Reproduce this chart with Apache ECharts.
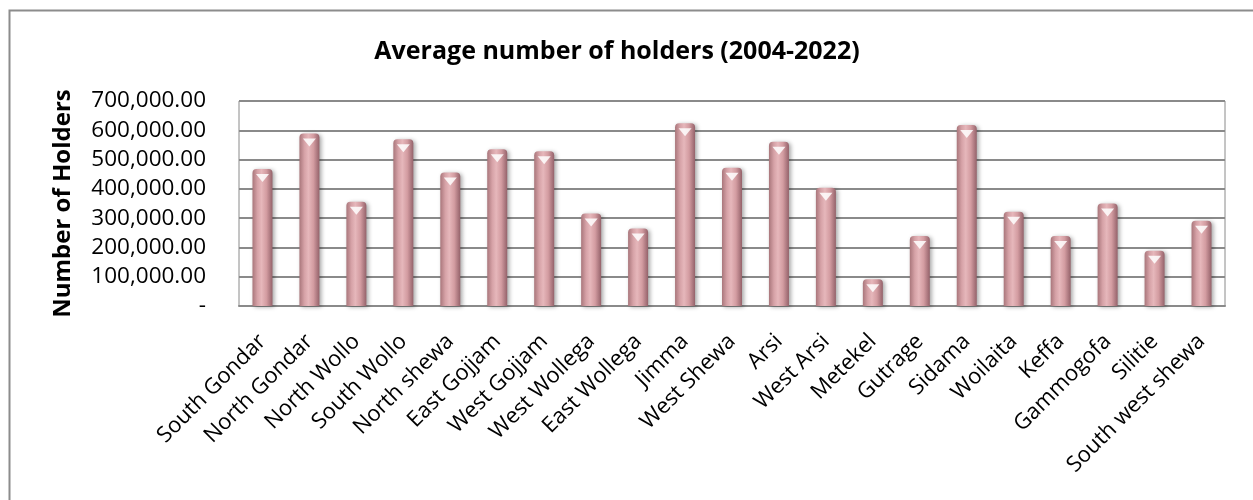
<!DOCTYPE html>
<html>
<head>
<meta charset="utf-8">
<script src="https://cdn.jsdelivr.net/npm/echarts@6/dist/echarts.min.js"></script>
<style>
  html, body { margin: 0; padding: 0; background: #ffffff; }
  #chart { width: 1253px; height: 500px; }
</style>
</head>
<body>
<div id="chart"></div>
<script>
// Zones and their average number of holders, 2004-2022
const zones = [
  'South Gondar', 'North Gondar', 'North Wollo', 'South Wollo', 'North shewa',
  'East Gojjam', 'West Gojjam', 'West Wollega', 'East Wollega', 'Jimma',
  'West Shewa', 'Arsi', 'West Arsi', 'Metekel', 'Gutrage', 'Sidama',
  'Woilaita', 'Keffa', 'Gammogofa', 'Silitie', 'South west shewa'
];
const holders = [
  468000, 589000, 356000, 569000, 456000,
  535000, 528000, 316000, 265000, 624000,
  472000, 561000, 404000, 91000, 239000, 618000,
  322000, 239000, 350000, 189000, 291000
];
const yTicks = [0, 100000, 200000, 300000, 400000, 500000, 600000, 700000];

const FONT = '"Open Sans", "Noto Sans", sans-serif';

function fmt(v) {
  if (v === 0) return '-';
  return v.toLocaleString('en-US', { minimumFractionDigits: 2, maximumFractionDigits: 2 });
}

const chart = echarts.init(document.getElementById('chart'), null, { renderer: 'canvas' });

const barFill = new echarts.graphic.LinearGradient(0, 0, 1, 0, [
  { offset: 0, color: '#a9767b' },
  { offset: 0.25, color: '#d6a2a7' },
  { offset: 0.45, color: '#e6b7bb' },
  { offset: 0.7, color: '#d39ca1' },
  { offset: 1, color: '#94626a' }
]);

chart.setOption({
  backgroundColor: '#ffffff',
  animation: false,
  graphic: [{
    type: 'rect',
    left: 7, top: 8,
    shape: { width: 1400, height: 700 },
    style: { fill: 'none', stroke: '#8c8c8c', lineWidth: 2 },
    silent: true
  }],
  title: {
    text: 'Average number of holders (2004-2022)',
    left: 612,
    textAlign: 'center',
    top: 34,
    textStyle: { fontFamily: FONT, fontSize: 25, fontWeight: 'bold', color: '#000000' }
  },
  grid: { left: 239, right: 28, top: 101, bottom: 194, containLabel: false, show: true,
          borderColor: '#8a8a8a', borderWidth: 1, backgroundColor: 'transparent' },
  xAxis: {
    type: 'category',
    data: zones,
    axisTick: { show: false },
    axisLine: { show: true, lineStyle: { color: '#8a8a8a', width: 2 } },
    axisLabel: {
      interval: 0, rotate: 45, margin: 32,
      fontFamily: FONT, fontSize: 22, color: '#000000'
    }
  },
  yAxis: {
    type: 'value',
    min: yTicks[0],
    max: yTicks[yTicks.length - 1],
    interval: yTicks[1] - yTicks[0],
    name: 'Number of Holders',
    nameLocation: 'middle',
    nameGap: 164,
    nameRotate: 90,
    nameTextStyle: { fontFamily: FONT, fontSize: 24, fontWeight: 'bold', color: '#000000' },
    axisLine: { show: false },
    axisTick: { show: false },
    splitLine: { lineStyle: { color: '#8a8a8a', width: 2 } },
    axisLabel: {
      formatter: fmt, margin: 33,
      fontFamily: FONT, fontSize: 22.5, color: '#000000'
    }
  },
  series: [
    {
      type: 'bar',
      data: holders,
      barWidth: 20,
      itemStyle: {
        color: barFill,
        borderRadius: [4, 4, 0, 0],
        shadowColor: 'rgba(0,0,0,0.35)',
        shadowBlur: 4,
        shadowOffsetX: 2,
        shadowOffsetY: 1
      },
      z: 2
    },
    {
      // light chevron highlight on each bar top
      type: 'pictorialBar',
      data: holders,
      symbol: 'triangle',
      symbolRotate: 180,
      symbolSize: [13, 8],
      symbolPosition: 'end',
      symbolOffset: [0, 5],
      barGap: '-100%',
      itemStyle: { color: 'rgba(255,255,255,0.85)' },
      silent: true,
      z: 3
    }
  ]
});
</script>
</body>
</html>
